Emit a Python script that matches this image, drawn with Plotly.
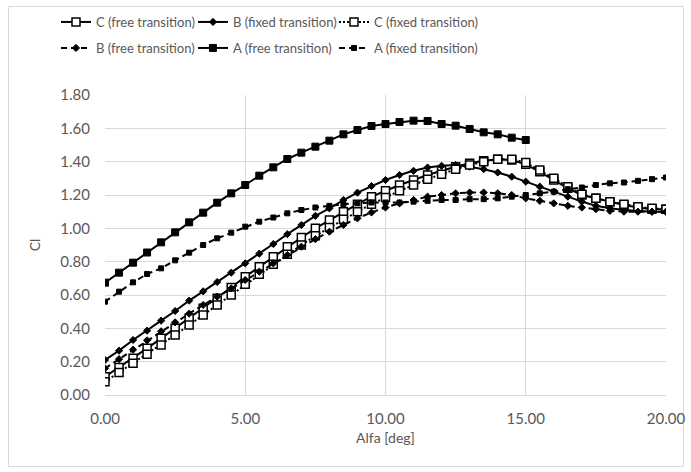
import plotly.graph_objects as go

alfa = [i * 0.5 for i in range(41)]

c_free = [0.11, 0.165, 0.22, 0.28, 0.34, 0.40, 0.46, 0.52, 0.58, 0.645, 0.71, 0.77, 0.83, 0.89, 0.945, 1.00,
          1.05, 1.10, 1.145, 1.19, 1.225, 1.26, 1.29, 1.32, 1.345, 1.37, 1.39, 1.405, 1.415, 1.41, 1.385,
          1.34, 1.29, 1.24, 1.20, 1.18, 1.16, 1.14, 1.125, 1.115, 1.115]
b_fixed = [0.21, 0.266, 0.33, 0.386, 0.446, 0.504, 0.566, 0.622, 0.678, 0.734, 0.79, 0.848, 0.906, 0.965,
           1.02, 1.075, 1.12, 1.17, 1.214, 1.254, 1.29, 1.32, 1.345, 1.365, 1.375, 1.38, 1.37, 1.355, 1.335,
           1.31, 1.28, 1.25, 1.22, 1.19, 1.16, 1.135, 1.12, 1.11, 1.105, 1.10, 1.10]
c_fixed = [0.08, 0.135, 0.19, 0.245, 0.30, 0.36, 0.42, 0.48, 0.54, 0.60, 0.665, 0.725, 0.785, 0.845, 0.90,
           0.955, 1.005, 1.055, 1.10, 1.145, 1.185, 1.225, 1.26, 1.295, 1.325, 1.355, 1.38, 1.40, 1.415,
           1.415, 1.395, 1.35, 1.30, 1.25, 1.205, 1.18, 1.16, 1.145, 1.13, 1.12, 1.115]
b_free = [0.16, 0.215, 0.272, 0.328, 0.382, 0.436, 0.488, 0.54, 0.59, 0.64, 0.69, 0.74, 0.79, 0.84, 0.89,
          0.935, 0.98, 1.02, 1.06, 1.095, 1.125, 1.15, 1.17, 1.19, 1.20, 1.21, 1.215, 1.215, 1.21, 1.20,
          1.18, 1.165, 1.15, 1.135, 1.125, 1.115, 1.105, 1.10, 1.10, 1.10, 1.10]
a_free = [0.674, 0.734, 0.794, 0.855, 0.916, 0.976, 1.036, 1.094, 1.154, 1.21, 1.26, 1.316, 1.366, 1.416,
          1.454, 1.49, 1.526, 1.564, 1.59, 1.614, 1.626, 1.638, 1.646, 1.644, 1.626, 1.616, 1.596, 1.576,
          1.564, 1.544, 1.53]
a_fixed = [0.56, 0.62, 0.676, 0.726, 0.76, 0.808, 0.854, 0.90, 0.94, 0.974, 1.01, 1.04, 1.065, 1.09, 1.11,
           1.125, 1.135, 1.145, 1.15, 1.155, 1.155, 1.155, 1.16, 1.165, 1.17, 1.17, 1.175, 1.175, 1.18, 1.19,
           1.20, 1.21, 1.22, 1.235, 1.245, 1.26, 1.27, 1.275, 1.285, 1.295, 1.305]

x_ticks = [0, 5, 10, 15, 20]
y_ticks = [0.0, 0.2, 0.4, 0.6, 0.8, 1.0, 1.2, 1.4, 1.6, 1.8]

TXT = "#595959"
FONT = "Lato"

fig = go.Figure()

def add(name, y, dash, symbol, size, fill, lw, legend):
    fig.add_trace(go.Scatter(
        x=alfa[:len(y)], y=y, name=name, mode="lines+markers", legend=legend, showlegend=True,
        line=dict(color="black", width=2, dash=dash),
        marker=dict(symbol=symbol, size=size, color=fill, line=dict(color="black", width=lw)),
    ))

add("C (free transition)", c_free, "solid", "square", 8, "white", 1.5, "legend")
add("B (fixed transition)", b_fixed, "solid", "diamond", 5.5, "black", 1, "legend2")
add("C (fixed transition)", c_fixed, "2px,2px", "square", 8, "white", 1.5, "legend3")
add("B (free transition)", b_free, "6px,4px", "diamond", 5.5, "black", 1, "legend4")
add("A (free transition)", a_free, "solid", "square", 7, "black", 1, "legend5")
add("A (fixed transition)", a_fixed, "6px,4px", "square", 5, "black", 1, "legend6")

W, H = 691, 472
L, R, T, B = 105, 25, 95, 77
pw, ph = W - L - R, H - T - B

def xp(px):
    return (px - L) / pw

def yp(py):
    return (H - B - py) / ph

LEGFONT = dict(family=FONT, size=13, color=TXT)

def leg(px, py):
    return dict(orientation="h", xref="container", yref="container", x=px / W, y=1 - py / H,
                xanchor="left", yanchor="middle", font=LEGFONT, bgcolor="rgba(0,0,0,0)", visible=True)

COLS = [56, 193, 334]
ROW1, ROW2 = 22, 48

fig.update_layout(
    width=W, height=H,
    showlegend=True,
    margin=dict(l=L, r=R, t=T, b=B, autoexpand=False),
    paper_bgcolor="white", plot_bgcolor="white",
    font=dict(family=FONT, size=14, color=TXT),
    legend=leg(COLS[0], ROW1),
    legend2=leg(COLS[1], ROW1),
    legend3=leg(COLS[2], ROW1),
    legend4=leg(COLS[0], ROW2),
    legend5=leg(COLS[1], ROW2),
    legend6=leg(COLS[2], ROW2),
    xaxis=dict(range=[0, 20], tickvals=x_ticks, tickformat=".2f", showgrid=True, gridcolor="#d9d9d9",
               gridwidth=1, zeroline=False, showline=True, linecolor="#d9d9d9", ticks="",
               ticklabelstandoff=10, tickfont=dict(family=FONT, size=15, color=TXT),
               title=dict(text="Alfa [deg]", font=dict(family=FONT, size=14, color=TXT), standoff=7)),
    yaxis=dict(range=[0, 1.8], tickvals=y_ticks, tickformat=".2f", showgrid=True, gridcolor="#d9d9d9",
               gridwidth=1, zeroline=False, showline=False, ticks="",
               ticklabelstandoff=14, tickfont=dict(family=FONT, size=15, color=TXT),
               title=dict(text="Cl", font=dict(family=FONT, size=14, color=TXT), standoff=16)),
    shapes=[dict(type="rect", xref="paper", yref="paper", x0=xp(8.5), x1=xp(683.5), y0=yp(466.5), y1=yp(6.5),
                 line=dict(color="#d9d9d9", width=1), fillcolor="rgba(0,0,0,0)", layer="below")],
)

fig.write_html("out.html")
